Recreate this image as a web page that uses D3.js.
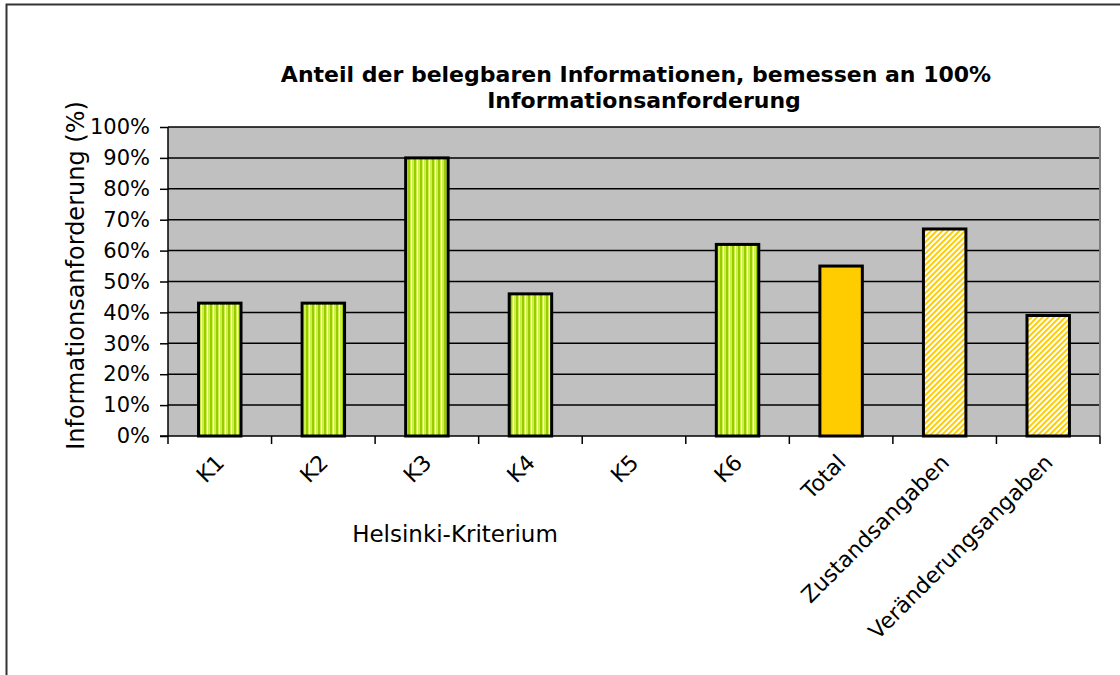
<!DOCTYPE html>
<html>
<head>
<meta charset="utf-8">
<script src="https://cdn.jsdelivr.net/npm/d3@7"></script>
<style>
  body { margin: 0; background: #fff; }
  text { font-family: "DejaVu Sans", sans-serif; fill: #000; }
</style>
</head>
<body>
<div id="vis"></div>
<script>
// Chart data
var categories = ['K1', 'K2', 'K3', 'K4', 'K5', 'K6', 'Total', 'Zustandsangaben', 'Veränderungsangaben'];
var values = [43, 43, 90, 46, 0, 62, 55, 67, 39];
var fills = ['stripe', 'stripe', 'stripe', 'stripe', 'stripe', 'stripe', 'solid', 'hatch', 'hatch'];
var yTicks = [0, 10, 20, 30, 40, 50, 60, 70, 80, 90, 100];

var width = 1120, height = 675;
var margin = { left: 168, right: 20, top: 127, bottom: 239 };
var drawWidth = width - margin.left - margin.right;
var drawHeight = height - margin.top - margin.bottom;

var svg = d3.select('#vis').append('svg')
    .attr('width', width)
    .attr('height', height);

// Patterns for the bars
var defs = svg.append('defs');
var stripe = defs.append('pattern')
    .attr('id', 'stripe')
    .attr('patternUnits', 'userSpaceOnUse')
    .attr('width', 6).attr('height', 6);
stripe.append('rect').attr('width', 6).attr('height', 6).attr('fill', '#ccf04a');
stripe.append('rect').attr('x', 0).attr('width', 2).attr('height', 6).attr('fill', '#99cc00');
stripe.append('rect').attr('x', 3).attr('width', 1).attr('height', 6).attr('fill', '#ffffff');

var hatch = defs.append('pattern')
    .attr('id', 'hatch')
    .attr('patternUnits', 'userSpaceOnUse')
    .attr('width', 4).attr('height', 4)
    .attr('patternTransform', 'rotate(45)');
hatch.append('rect').attr('width', 4).attr('height', 4).attr('fill', '#ffffff');
hatch.append('rect').attr('width', 2).attr('height', 4).attr('fill', '#ffcc00');

function fillFor(f) {
    if (f === 'stripe') return 'url(#stripe)';
    if (f === 'hatch') return 'url(#hatch)';
    return '#ffcc00';
}

// Outer chart border (top and left edges visible)
svg.append('path')
    .attr('d', 'M6.5,675 V4.5 H1120')
    .attr('fill', 'none')
    .attr('stroke', '#333')
    .attr('stroke-width', 2);

var g = svg.append('g')
    .attr('transform', 'translate(' + margin.left + ',' + margin.top + ')');

var xScale = d3.scaleBand()
    .domain(categories)
    .range([0, drawWidth]);

var yScale = d3.scaleLinear()
    .domain([0, 100])
    .range([drawHeight, 0]);

// Plot area background
g.append('rect')
    .attr('width', drawWidth)
    .attr('height', drawHeight)
    .attr('fill', '#c0c0c0');

// Gridlines
g.selectAll('.grid').data(yTicks.slice(1)).enter().append('line')
    .attr('x1', 0).attr('x2', drawWidth)
    .attr('y1', function(d) { return yScale(d); })
    .attr('y2', function(d) { return yScale(d); })
    .attr('stroke', '#000')
    .attr('stroke-width', 1.5);

// Right border of plot area
g.append('line')
    .attr('x1', drawWidth).attr('x2', drawWidth)
    .attr('y1', 0).attr('y2', drawHeight)
    .attr('stroke', '#808080')
    .attr('stroke-width', 2);

// Bars
var barW = xScale.bandwidth() * 0.41;
g.selectAll('.bar').data(values).enter().append('rect')
    .attr('class', 'bar')
    .attr('x', function(d, i) { return xScale(categories[i]) + (xScale.bandwidth() - barW) / 2; })
    .attr('y', function(d) { return yScale(d); })
    .attr('width', barW)
    .attr('height', function(d) { return drawHeight - yScale(d); })
    .attr('fill', function(d, i) { return fillFor(fills[i]); })
    .attr('stroke', function(d) { return d > 0 ? '#000' : 'none'; })
    .attr('stroke-width', 3);

// Y axis
var yAxis = d3.axisLeft(yScale)
    .tickValues(yTicks)
    .tickSize(8)
    .tickFormat(function(d) { return d + '%'; });
var yAxisG = g.append('g').call(yAxis);
yAxisG.select('.domain').attr('stroke', '#000').attr('stroke-width', 1.5).attr('d', 'M0,0V' + drawHeight);
yAxisG.selectAll('.tick line').attr('stroke', '#000').attr('stroke-width', 1.5);
yAxisG.selectAll('.tick text')
    .attr('x', -18)
    .style('font-size', '21px')
    .style('font-family', '"DejaVu Sans", sans-serif');

// X axis: ticks at category boundaries
var bounds = categories.map(function(c) { return xScale(c); }).concat([drawWidth]);
g.append('line')
    .attr('x1', -8).attr('x2', drawWidth)
    .attr('y1', drawHeight).attr('y2', drawHeight)
    .attr('stroke', '#000').attr('stroke-width', 1.5);
g.selectAll('.xtick').data(bounds).enter().append('line')
    .attr('x1', function(d) { return d; })
    .attr('x2', function(d) { return d; })
    .attr('y1', drawHeight).attr('y2', drawHeight + 8)
    .attr('stroke', '#000').attr('stroke-width', 1.5);

g.selectAll('.xlabel').data(categories).enter().append('text')
    .attr('transform', function(d) {
        var x = xScale(d) + xScale.bandwidth() / 2 + 6;
        return 'translate(' + x + ',' + (drawHeight + 28) + ') rotate(-45)';
    })
    .attr('text-anchor', 'end')
    .style('font-size', '22px')
    .text(function(d) { return d; });

// Axis titles
svg.append('text')
    .attr('x', 455).attr('y', 542)
    .attr('text-anchor', 'middle')
    .style('font-size', '23px')
    .text('Helsinki-Kriterium');

svg.append('text')
    .attr('transform', 'translate(84,' + (margin.top + drawHeight / 2 - 6) + ') rotate(-90)')
    .attr('text-anchor', 'middle')
    .style('font-size', '24px')
    .text('Informationsanforderung (%)');

// Chart title
var title = svg.append('text')
    .attr('text-anchor', 'middle')
    .style('font-size', '22px')
    .style('font-weight', 'bold');
title.append('tspan').attr('x', 636).attr('y', 82).text('Anteil der belegbaren Informationen, bemessen an 100%');
title.append('tspan').attr('x', 644).attr('y', 108).text('Informationsanforderung');
</script>
</body>
</html>
